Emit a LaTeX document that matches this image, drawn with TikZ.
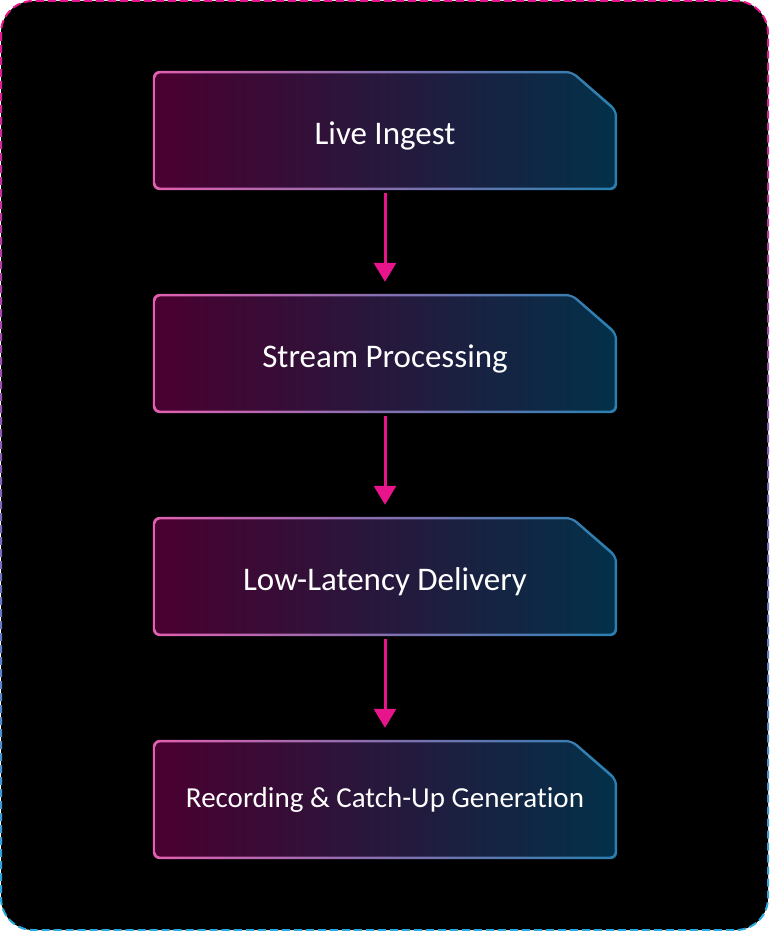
\documentclass[tikz,border=0pt]{standalone}
\usepackage{fontspec}
\setmainfont{Carlito}[Ligatures=NoCommon]
\usetikzlibrary{arrows.meta}

\definecolor{edgepink}{RGB}{226,96,176}
\definecolor{edgeblue}{RGB}{40,128,176}
\definecolor{fillwine}{RGB}{74,0,48}
\definecolor{fillteal}{RGB}{3,48,73}
\definecolor{arrowpink}{RGB}{232,20,140}
\definecolor{framepink}{RGB}{232,20,140}
\definecolor{framecyan}{RGB}{40,170,225}

\pgfdeclarelayer{frame}
\pgfdeclarelayer{boxes}
\pgfsetlayers{frame,boxes,main}

\tikzset{
    stage/.style={minimum width=464pt, minimum height=119pt, inner sep=0pt,
        text=white, font=\fontsize{33}{38}\selectfont,
        text height=33pt, text depth=6pt},
    flow/.style={draw=arrowpink, line width=3pt,
        -{Triangle[width=22pt,length=19pt]},
        shorten <=3pt, shorten >=12pt},
}

\newcommand{\stageshape}[1]{%
    \shade[left color=edgepink, right color=edgeblue, rounded corners=7pt]
        (#1.south west) -- (#1.north west) -- ([xshift=-45pt]#1.north east)
        -- ([yshift=-39pt]#1.north east) -- (#1.south east) -- cycle;
    \shade[left color=fillwine, right color=fillteal, rounded corners=5pt]
        ([shift={(2.5pt,2.5pt)}]#1.south west) -- ([shift={(2.5pt,-2.5pt)}]#1.north west)
        -- ([shift={(-46pt,-2.5pt)}]#1.north east) -- ([shift={(-2.5pt,-40.5pt)}]#1.north east)
        -- ([shift={(-2.5pt,2.5pt)}]#1.south east) -- cycle;
}

\begin{document}
    \begin{tikzpicture}[x=1pt, y=-1pt]
        \useasboundingbox (0,0) rectangle (769,931);

        \node[stage] (ingest)  at (385,130.5) {Live Ingest};
        \node[stage] (process) at (385,353.5) {Stream Processing};
        \node[stage] (deliver) at (385,576.5) {Low-Latency Delivery};
        \node[stage, font=\fontsize{29}{34}\selectfont, text height=22pt] (record)
            at (385,799.5) {Recording \& Catch-Up Generation};

        \draw[flow] (ingest)  -- (process);
        \draw[flow] (process) -- (deliver);
        \draw[flow] (deliver) -- (record);

        \begin{pgfonlayer}{boxes}
            \foreach \n in {ingest,process,deliver,record}
                \stageshape{\n};
        \end{pgfonlayer}

        % dashed frame, pink at the top fading to cyan at the bottom
        \begin{pgfonlayer}{frame}
            \fill[black, rounded corners=32pt] (1,1) rectangle (768,930);
            \foreach \i in {0,...,30} {
                \pgfmathtruncatemacro\mix{100-\i*100/30}
                \begin{scope}
                    \clip (0,\i*30) rectangle (769,\i*30+31);
                    \draw[framepink!\mix!framecyan, line width=2pt,
                        dash pattern=on 8pt off 4pt, rounded corners=32pt]
                        (1,1) rectangle (768,930);
                \end{scope}
            }
        \end{pgfonlayer}
    \end{tikzpicture}
\end{document}
